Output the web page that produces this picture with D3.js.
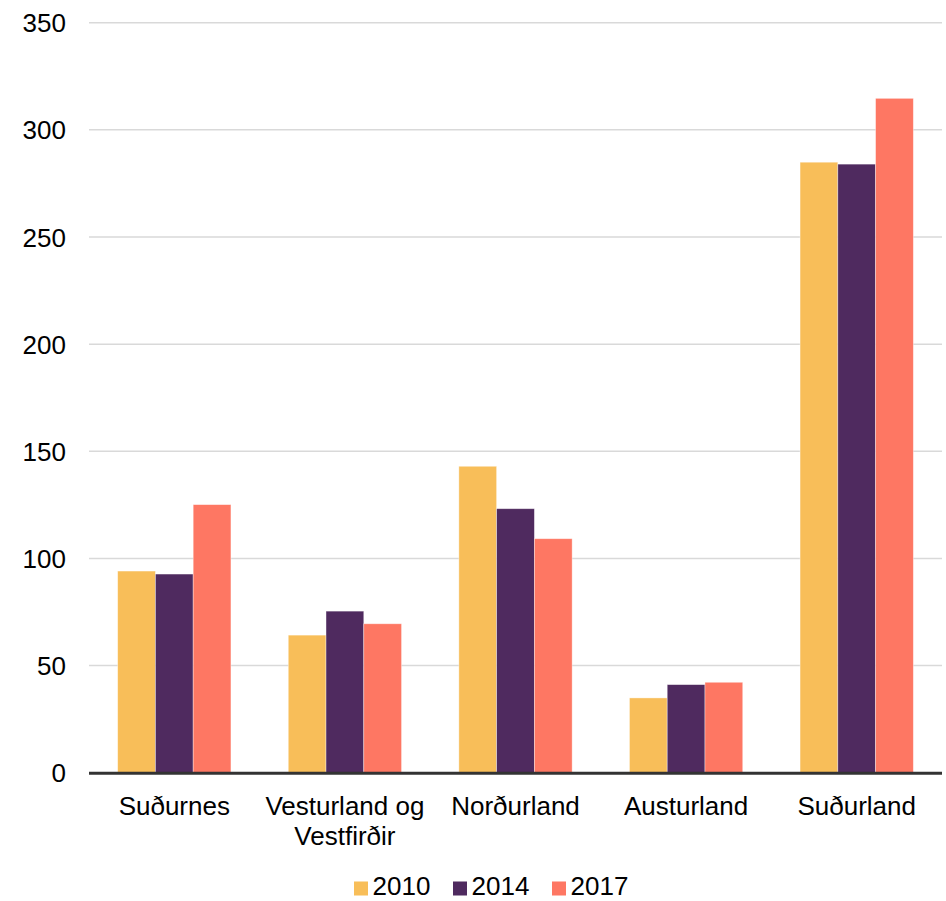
<!DOCTYPE html>
<html>
<head>
<meta charset="utf-8">
<script src="https://cdn.jsdelivr.net/npm/d3@7"></script>
<style>
  html, body { margin: 0; padding: 0; background: #fff; }
  svg { display: block; font-family: Arial, "Liberation Sans", sans-serif; }
</style>
</head>
<body>
<svg id="chart" width="946" height="901"></svg>
<script>
const categories = [["Suðurnes"], ["Vesturland og", "Vestfirðir"], ["Norðurland"], ["Austurland"], ["Suðurland"]];
const series = ["2010", "2014", "2017"];
const values2010 = [94.1, 64.2, 143.0, 34.9, 284.9];
const values2014 = [92.7, 75.4, 123.2, 41.1, 284.0];
const values2017 = [125.1, 69.5, 109.2, 42.2, 314.7];
const yTicks = [0, 50, 100, 150, 200, 250, 300, 350];
const colors = ["#F8BE59", "#4F2A5F", "#FE7763"];

const valuesBySeries = [values2010, values2014, values2017];
const catKeys = categories.map(c => c.join(" "));

const svg = d3.select("#chart");
const plotLeft = 89, plotRight = 942, plotTop = 22.7, plotBottom = 772.7;

const x0 = d3.scaleBand().domain(catKeys).range([plotLeft, plotRight]).padding(0);
const gap = x0.bandwidth() * 0.168;
const x1 = d3.scaleBand().domain(series).range([gap, x0.bandwidth() - gap]).padding(0);
const y = d3.scaleLinear().domain([0, 350]).range([plotBottom, plotTop]);

// gridlines
svg.append("g")
  .selectAll("line")
  .data(yTicks.filter(t => t > 0))
  .join("line")
  .attr("x1", plotLeft).attr("x2", plotRight)
  .attr("y1", d => y(d)).attr("y2", d => y(d))
  .attr("stroke", "#D9D9D9").attr("stroke-width", 1.5);

// y axis labels
const yAxis = d3.axisLeft(y).tickValues(yTicks).tickSize(0).tickPadding(0).tickFormat(d3.format("d"));
const yg = svg.append("g").attr("transform", `translate(66,0)`).call(yAxis);
yg.select(".domain").remove();
yg.selectAll("text").attr("font-size", "26px").attr("fill", "#000").attr("font-family", "Arial, 'Liberation Sans', sans-serif").attr("dy", "0.35em");

// bars
const groups = svg.append("g")
  .selectAll("g")
  .data(catKeys)
  .join("g")
  .attr("transform", d => `translate(${x0(d)},0)`);

groups.selectAll("rect")
  .data((d, i) => series.map((s, j) => ({ s, j, v: valuesBySeries[j][i] })))
  .join("rect")
  .attr("x", d => x1(d.s))
  .attr("width", x1.bandwidth())
  .attr("y", d => y(d.v))
  .attr("height", d => y(0) - y(d.v))
  .attr("fill", d => colors[d.j])
  .attr("stroke", "#fff").attr("stroke-opacity", 0.5).attr("stroke-width", 0.75);

// x axis line
svg.append("line")
  .attr("x1", plotLeft).attr("x2", plotRight)
  .attr("y1", y(0) + 0.6).attr("y2", y(0) + 0.6)
  .attr("stroke", "#333").attr("stroke-width", 3);

// category labels
const xl = svg.append("g");
categories.forEach((lines, i) => {
  const cx = x0(catKeys[i]) + x0.bandwidth() / 2;
  const t = xl.append("text")
    .attr("x", cx)
    .attr("y", 815)
    .attr("text-anchor", "middle")
    .attr("font-size", "26px")
    .attr("fill", "#000");
  lines.forEach((ln, k) => {
    t.append("tspan").attr("x", cx).attr("dy", k === 0 ? 0 : 29.5).text(ln);
  });
});

// legend
const legend = svg.append("g");
series.forEach((s, i) => {
  const lx = 354 + i * 99;
  legend.append("rect").attr("x", lx).attr("y", 881.5).attr("width", 14).attr("height", 14).attr("fill", colors[i]);
  legend.append("text").attr("x", lx + 18.5).attr("y", 895.3).attr("font-size", "26px").attr("fill", "#000").text(s);
});
</script>
</body>
</html>
